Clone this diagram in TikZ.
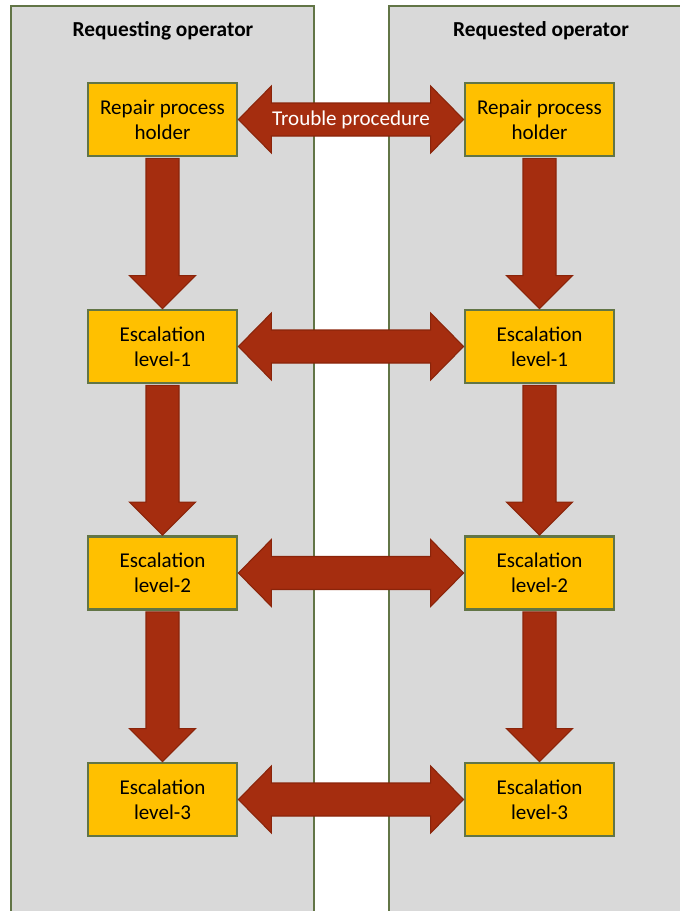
\documentclass[tikz,border=0pt]{standalone}
\usepackage{fontspec}
\setmainfont{Carlito}
\usepackage{xcolor}
\usetikzlibrary{calc}
\definecolor{panelgray}{RGB}{217,217,217}
\definecolor{olive}{RGB}{98,117,70}
\definecolor{boxyellow}{RGB}{255,192,0}
\definecolor{arrowred}{RGB}{165,45,15}
\definecolor{arrowedge}{RGB}{138,36,10}
\tikzset{
	panel/.style={fill=panelgray,draw=olive,line width=2.1pt},
	stage/.style={rectangle,fill=boxyellow,draw=olive,line width=2.1pt,minimum width=111.75pt,minimum height=54.75pt,align=center,inner sep=0pt,font=\fontsize{15.8}{18.8}\selectfont},
	blockarrow/.style={fill=arrowred,draw=arrowedge,line width=0.8pt,line join=miter},
	paneltitle/.style={font=\fontsize{16}{19}\selectfont\bfseries}
}
\begin{document}
\begin{tikzpicture}[x=0.75pt,y=-0.75pt]
	\useasboundingbox (0,0) rectangle (680,911);
	\clip (0,0) rectangle (680,911);
	\draw[panel] (11,6) rectangle (314,930);
	\draw[panel] (389,6) rectangle (700,930);
	\node[paneltitle] (reqing) at (163,31) {Requesting operator};
	\node[paneltitle] (reqed) at (541,31) {Requested operator};
	\node[stage] (L1) at (162.5,119.5) {Repair process\\holder};
	\node[stage] (R1) at (539.5,119.5) {Repair process\\holder};
	\foreach \r/\y in {2/346.5,3/573,4/799.5}{
		\pgfmathtruncatemacro{\lvl}{\r-1}
		\node[stage] (L\r) at (162.5,\y) {Escalation\\level-\lvl};
		\node[stage] (R\r) at (539.5,\y) {Escalation\\level-\lvl};
	}
	\foreach \s in {L,R}{
		\foreach \a/\b in {1/2,2/3,3/4}{
			\draw[blockarrow] ($(\s\a.south)+(-16.5,1)$) -- ($(\s\b.north)+(-16.5,-33)$) -- ($(\s\b.north)+(-33,-33)$) -- (\s\b.north) -- ($(\s\b.north)+(33,-33)$) -- ($(\s\b.north)+(16.5,-33)$) -- ($(\s\a.south)+(16.5,1)$) -- cycle;
		}
	}
	\foreach \r in {1,2,3,4}{
		\draw[blockarrow] (L\r.east) -- ($(L\r.east)+(33,-33.5)$) -- ($(L\r.east)+(33,-16.5)$) -- ($(R\r.west)+(-33,-16.5)$) -- ($(R\r.west)+(-33,-33.5)$) -- (R\r.west) -- ($(R\r.west)+(-33,33.5)$) -- ($(R\r.west)+(-33,16.5)$) -- ($(L\r.east)+(33,16.5)$) -- ($(L\r.east)+(33,33.5)$) -- cycle;
	}
	\node[text=white,font=\fontsize{15.8}{18.8}\selectfont] (trouble) at ($(L1.east)!0.5!(R1.west)$) {Trouble procedure};
\end{tikzpicture}
\end{document}
